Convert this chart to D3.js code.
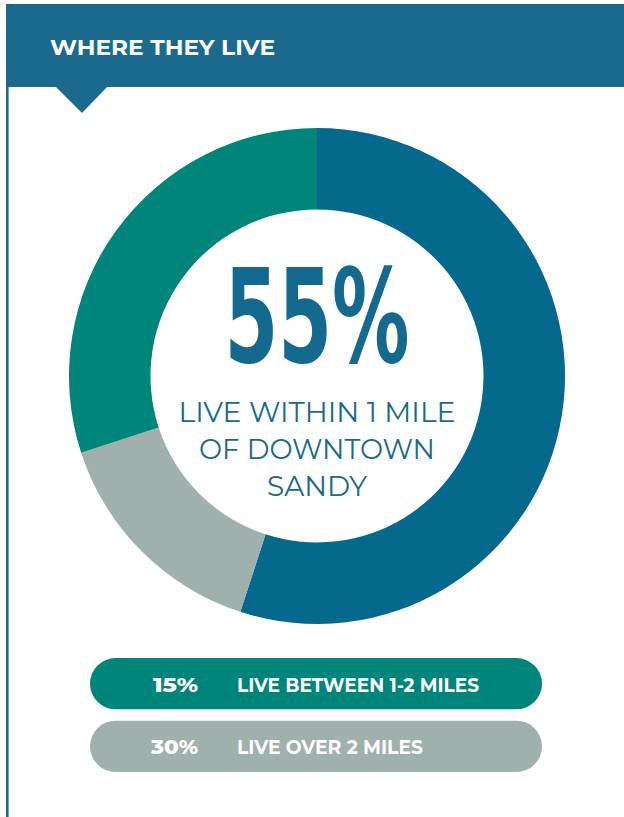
<!DOCTYPE html>
<html>
<head>
<meta charset="utf-8">
<script src="https://cdn.jsdelivr.net/npm/d3@7"></script>
<style>
  html, body { margin: 0; padding: 0; background: #ffffff; }
  svg { display: block; }
</style>
</head>
<body>
<svg id="chart" width="624" height="817"></svg>
<script>
// Where residents live, share of respondents by distance from downtown
const ringLabels = ["Within 1 mile", "1-2 miles (ring)", "Over 2 miles (ring)"];
const ringShares = [55, 15, 30];

const headline = "55%";
const headlineLines = ["LIVE WITHIN 1 MILE", "OF DOWNTOWN", "SANDY"];

const pillValues = ["15%", "30%"];
const pillTexts = ["LIVE BETWEEN 1-2 MILES", "LIVE OVER 2 MILES"];

const title = "WHERE THEY LIVE";

// palette
const headerBlue = "#1b6a8d";
const ringColors = ["#05698d", "#9fb0ad", "#00857a"];
const pillColors = ["#00857a", "#9fb0ad"];

const W = 624, H = 817;
const svg = d3.select("#chart");

// header band with pointer
svg.append("rect").attr("x", 6).attr("y", 4).attr("width", W - 6).attr("height", 83).attr("fill", headerBlue);
svg.append("path").attr("d", "M55,86 L108,86 L82,113 Z").attr("fill", headerBlue);
svg.append("rect").attr("x", 6).attr("y", 86).attr("width", 2.6).attr("height", H - 86).attr("fill", headerBlue);

svg.append("text")
  .attr("x", 50).attr("y", 54.5)
  .attr("font-family", "Montserrat, 'Open Sans', sans-serif")
  .attr("font-weight", 700).attr("font-size", 21)
  .attr("fill", "#ffffff")
  .attr("textLength", 225).attr("lengthAdjust", "spacingAndGlyphs")
  .text(title);

// donut
const cx = 317, cy = 376;
const pie = d3.pie().sort(null).value(d => d.v);
const arc = d3.arc().innerRadius(166.5).outerRadius(248);
const ring = svg.append("g").attr("transform", `translate(${cx},${cy})`);
ring.selectAll("path")
  .data(pie(ringShares.map((v, i) => ({ k: ringLabels[i], v }))))
  .join("path")
  .attr("d", arc)
  .attr("fill", (d, i) => ringColors[i]);

// centre text
ring.append("text")
  .attr("x", 0).attr("y", 362 - cy)
  .attr("text-anchor", "middle")
  .attr("font-family", "'DejaVu Sans Condensed', 'DejaVu Sans', sans-serif")
  .attr("font-weight", 700).attr("font-size", 130)
  .attr("fill", "#13698e")
  .attr("textLength", 185).attr("lengthAdjust", "spacingAndGlyphs")
  .text(headline);

const lineWidths = [277, 236, 100];
ring.selectAll("text.sub")
  .data(headlineLines)
  .join("text")
  .attr("class", "sub")
  .attr("x", 0)
  .attr("y", (d, i) => 422 + i * 37 - cy)
  .attr("text-anchor", "middle")
  .attr("font-family", "Montserrat, Lato, sans-serif")
  .attr("font-weight", 400).attr("font-size", 28)
  .attr("fill", "#1b6a8d")
  .attr("textLength", (d, i) => lineWidths[i]).attr("lengthAdjust", "spacingAndGlyphs")
  .text(d => d);

// legend pills
const y = d3.scaleBand().domain(pillTexts).range([658, 772]).paddingInner(0.18);
const pills = svg.selectAll("g.pill")
  .data(pillTexts.map((t, i) => ({ t, v: pillValues[i], c: pillColors[i] })))
  .join("g")
  .attr("class", "pill")
  .attr("transform", d => `translate(0,${y(d.t)})`);

pills.append("rect")
  .attr("x", 90).attr("width", 452)
  .attr("height", y.bandwidth())
  .attr("rx", y.bandwidth() / 2)
  .attr("fill", d => d.c);

const valueWidths = [45, 47];
const textWidths = [242, 186];
pills.append("text")
  .attr("x", 198).attr("y", y.bandwidth() / 2 + 8)
  .attr("text-anchor", "end")
  .attr("font-family", "Montserrat, 'Open Sans', sans-serif")
  .attr("font-weight", 800).attr("font-size", 20.5)
  .attr("fill", "#ffffff")
  .attr("textLength", (d, i) => valueWidths[i]).attr("lengthAdjust", "spacingAndGlyphs")
  .text(d => d.v);

pills.append("text")
  .attr("x", 237).attr("y", y.bandwidth() / 2 + 8)
  .attr("font-family", "Montserrat, 'Open Sans', sans-serif")
  .attr("font-weight", 700).attr("font-size", 19.5)
  .attr("fill", "#ffffff")
  .attr("textLength", (d, i) => textWidths[i]).attr("lengthAdjust", "spacingAndGlyphs")
  .text(d => d.t);
</script>
</body>
</html>
